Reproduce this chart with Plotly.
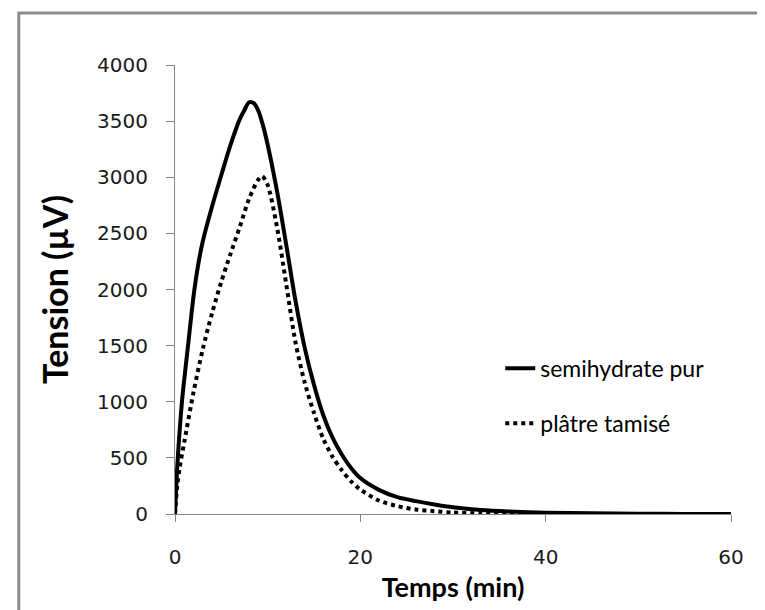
import plotly.graph_objects as go

# Temps (min) / tension (µV)
t_semi = [0, 0.25, 0.5, 0.75, 1, 1.5, 2, 2.5, 3, 4, 5, 6, 7, 7.5, 8, 8.5, 9,
          9.5, 10, 11, 12, 13, 14, 15, 16, 17, 18, 19, 20, 22, 24, 26, 28, 30,
          33, 36, 40, 45, 50, 55, 60]
v_semi = [0, 430, 740, 1000, 1200, 1570, 1940, 2220, 2430, 2740, 3020, 3290,
          3520, 3600, 3668, 3660, 3590, 3460, 3290, 2880, 2400, 1900, 1480,
          1150, 880, 680, 530, 410, 320, 215, 150, 115, 85, 60, 35, 22, 12, 6,
          3, 1, 0]

t_platre = [0, 0.25, 0.5, 1, 2, 3, 4, 5, 6, 7, 8, 9, 9.4, 10, 11, 12, 13, 14,
            15, 16, 17, 18, 19, 20, 22, 24, 26, 28, 30, 33, 36, 40, 50, 60]
v_platre = [0, 260, 410, 640, 1085, 1470, 1790, 2070, 2320, 2560, 2810, 2980,
            3010, 2930, 2560, 2050, 1530, 1170, 900, 670, 510, 390, 290, 218,
            120, 70, 40, 25, 13, 6, 3, 1, 0, 0]

x_ticks = [0, 20, 40, 60]
y_ticks = [0, 500, 1000, 1500, 2000, 2500, 3000, 3500, 4000]

AXIS_GREY = "#868686"
TICK_FONT = dict(family="DejaVu Sans", size=20, color="#1a1a1a")

fig = go.Figure()

fig.add_trace(go.Scatter(
    x=t_semi, y=v_semi, mode="lines", name="semihydrate pur",
    legendgroup="a",
    line=dict(color="#000000", width=4, shape="spline", smoothing=0.8),
))
fig.add_trace(go.Scatter(
    x=t_platre, y=v_platre, mode="lines", name="plâtre tamisé",
    legendgroup="b",
    line=dict(color="#000000", width=4, dash="dot", shape="spline", smoothing=0.8),
))

fig.update_xaxes(
    range=[0, 60], tickvals=x_ticks, showgrid=False, zeroline=False,
    showline=True, linecolor=AXIS_GREY, linewidth=1,
    ticks="outside", ticklen=7, tickcolor=AXIS_GREY,
    tickfont=TICK_FONT, ticklabelstandoff=18,
    title=dict(text="Temps (min)", standoff=10,
               font=dict(family="Lato", size=27, color="#000000", weight="bold")),
    automargin=False,
)
fig.update_yaxes(
    range=[0, 4000], tickvals=y_ticks, showgrid=False, zeroline=False,
    showline=True, linecolor=AXIS_GREY, linewidth=1,
    ticks="outside", ticklen=8, tickcolor=AXIS_GREY,
    tickfont=TICK_FONT, ticklabelstandoff=14,
    title=dict(text="Tension (µV)", standoff=18,
               font=dict(family="Lato", size=34, color="#000000", weight="bold")),
    automargin=False,
)

# chart frame (only top and left edges are visible in the crop)
fig.add_shape(
    type="rect", xref="paper", yref="paper",
    x0=-0.281, x1=1.2, y0=-0.3, y1=1.116,
    line=dict(color="#8c8c8c", width=3), layer="above",
)

fig.update_layout(
    width=765, height=610,
    margin=dict(l=167, r=42, t=57, b=104, autoexpand=False),
    paper_bgcolor="white", plot_bgcolor="white",
    showlegend=True,
    legend=dict(
        x=0.585, y=0.263, xanchor="left", yanchor="middle",
        font=dict(family="Lato", size=23, color="#000000"),
        bgcolor="rgba(0,0,0,0)", borderwidth=0,
        tracegroupgap=22, traceorder="grouped",
    ),
)

fig.write_html("out.html")
